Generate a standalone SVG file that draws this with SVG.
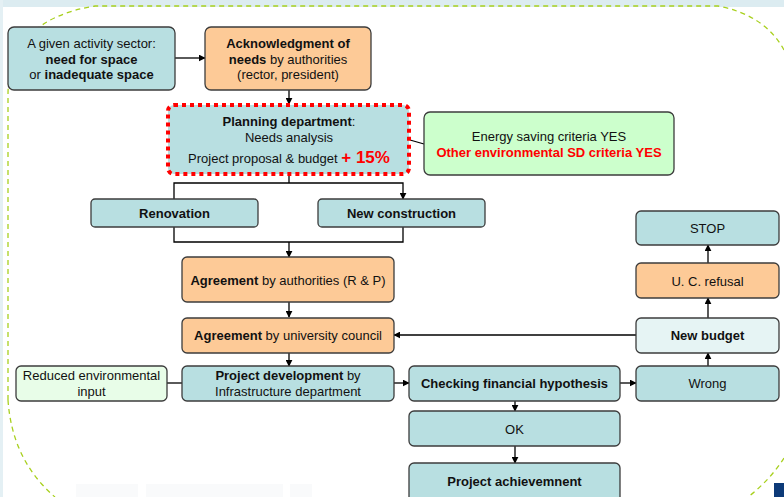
<svg xmlns="http://www.w3.org/2000/svg" width="784" height="497" viewBox="0 0 784 497">
<style>
  text { font-family: "Liberation Sans", Arial, sans-serif; font-size: 13px; fill: #111; text-anchor: middle; }
  .b { font-weight: bold; }
  .red { fill: #ff0000; font-weight: bold; }
  .teal { fill: #b8dfe1; stroke: #3c3c3c; stroke-width: 1.3; }
  .peach { fill: #fdca97; stroke: #3c3c3c; stroke-width: 1.3; }
  .green { fill: #ccffcc; stroke: #3c3c3c; stroke-width: 1.3; }
  .lgreen { fill: #e8fde8; stroke: #3c3c3c; stroke-width: 1.3; }
  .lteal { fill: #e6f4f4; stroke: #3c3c3c; stroke-width: 1.3; }
  .con { fill: none; stroke: #000; stroke-width: 1.3; }
  .deco { fill: none; stroke: #a8d01e; stroke-width: 1.3; stroke-dasharray: 5 4; }
</style>
<defs>
  <marker id="arr" viewBox="0 0 10 10" refX="9" refY="5" markerWidth="7" markerHeight="7" markerUnits="userSpaceOnUse" orient="auto">
    <path d="M0,0 L10,5 L0,10 z" fill="#000"/>
  </marker>
</defs>
<rect x="0" y="0" width="784" height="497" fill="#ffffff"/>
<g id="background">
  <rect x="0" y="0" width="784" height="7" fill="#dcecf1"/>
  <rect x="0" y="0" width="3" height="497" fill="#e4f0f4"/>
  <rect x="76" y="484" width="62" height="13" fill="#f9fafb"/>
  <rect x="146" y="484" width="137" height="13" fill="#f9fafb"/>
  <rect x="290" y="484" width="22" height="13" fill="#f9fafb"/>
  <path class="deco" d="M8,400 L8,95 Q8,20 95,6 L718,6 Q765,15 784,50"/>
  <path class="deco" d="M8,400 Q12,460 55,497"/>
  <path class="deco" d="M784,458 Q770,480 748,497"/>
  <rect x="774" y="483" width="10" height="14" fill="#0d3a78"/>
</g>
<g id="connectors">
  <line class="con" x1="175" y1="58" x2="205" y2="58" marker-end="url(#arr)"/>
  <line class="con" x1="289" y1="90" x2="289" y2="104" marker-end="url(#arr)"/>
  <line class="con" x1="410" y1="140" x2="424" y2="144"/>
  <polyline class="con" points="289,175 289,183"/>
  <polyline class="con" points="174,199 174,183 403,183 403,199" marker-start="url(#arr)" marker-end="url(#arr)"/>
  <polyline class="con" points="174,227 174,242 403,242 403,227"/>
  <line class="con" x1="289" y1="242" x2="289" y2="257" marker-end="url(#arr)"/>
  <line class="con" x1="289" y1="302" x2="289" y2="317" marker-end="url(#arr)"/>
  <line class="con" x1="289" y1="353" x2="289" y2="366" marker-end="url(#arr)"/>
  <line class="con" x1="167" y1="383" x2="182" y2="383"/>
  <line class="con" x1="394" y1="383" x2="409" y2="383" marker-end="url(#arr)"/>
  <line class="con" x1="620" y1="383" x2="636" y2="383" marker-end="url(#arr)"/>
  <line class="con" x1="515" y1="401" x2="515" y2="411" marker-end="url(#arr)"/>
  <line class="con" x1="515" y1="446" x2="515" y2="463" marker-end="url(#arr)"/>
  <line class="con" x1="708" y1="366" x2="708" y2="353" marker-end="url(#arr)"/>
  <line class="con" x1="636" y1="335" x2="394" y2="335" marker-end="url(#arr)"/>
  <line class="con" x1="708" y1="318" x2="708" y2="298" marker-end="url(#arr)"/>
  <line class="con" x1="708" y1="263" x2="708" y2="245" marker-end="url(#arr)"/>
</g>
<g id="sector">
  <rect class="teal" x="8" y="27" width="167" height="63" rx="6"/>
  <text x="91.5" y="47.5">A given activity sector:</text>
  <text x="91.5" y="63.5" class="b">need for space</text>
  <text x="91.5" y="79">or <tspan class="b">inadequate space</tspan></text>
</g>
<g id="acknowledgment">
  <rect class="peach" x="205" y="27" width="166" height="63" rx="6"/>
  <text x="288" y="47.5" class="b">Acknowledgment of</text>
  <text x="288" y="63.5"><tspan class="b">needs</tspan> by authorities</text>
  <text x="288" y="79">(rector, president)</text>
</g>
<g id="planning">
  <rect x="168" y="105" width="241" height="69" rx="6" fill="#b8dfe1" stroke="#ff0000" stroke-width="4" stroke-dasharray="4 4"/>
  <text x="289" y="126"><tspan class="b">Planning department</tspan>:</text>
  <text x="289" y="142">Needs analysis</text>
  <text x="289" y="163">Project proposal &amp; budget <tspan class="red" style="font-size:17px">+ 15%</tspan></text>
</g>
<g id="energy">
  <rect class="green" x="424" y="112" width="250" height="63" rx="6"/>
  <text x="549" y="141">Energy saving criteria YES</text>
  <text x="549" y="157" class="red">Other environmental SD criteria YES</text>
</g>
<g id="renovation">
  <rect class="teal" x="91" y="199" width="167" height="28" rx="4"/>
  <text x="174.5" y="217.5" class="b">Renovation</text>
</g>
<g id="newconstruction">
  <rect class="teal" x="318" y="199" width="167" height="28" rx="4"/>
  <text x="401.5" y="217.5" class="b">New construction</text>
</g>
<g id="agreement-authorities">
  <rect class="peach" x="182" y="257" width="212" height="45" rx="5"/>
  <text x="288" y="285"><tspan class="b">Agreement</tspan> by authorities (R &amp; P)</text>
</g>
<g id="agreement-council">
  <rect class="peach" x="182" y="318" width="212" height="35" rx="5"/>
  <text x="288" y="340"><tspan class="b">Agreement</tspan> by university council</text>
</g>
<g id="project-development">
  <rect class="teal" x="182" y="366" width="212" height="35" rx="5"/>
  <text x="288" y="380"><tspan class="b">Project development</tspan> by</text>
  <text x="288" y="396">Infrastructure department</text>
</g>
<g id="reduced-input">
  <rect class="lgreen" x="16" y="366" width="151" height="35" rx="5"/>
  <text x="91.5" y="380">Reduced environmental</text>
  <text x="91.5" y="396">input</text>
</g>
<g id="checking">
  <rect class="teal" x="409" y="366" width="211" height="35" rx="5"/>
  <text x="514.5" y="387.5" class="b">Checking financial hypothesis</text>
</g>
<g id="ok">
  <rect class="teal" x="409" y="411" width="211" height="35" rx="5"/>
  <text x="514.5" y="433.5">OK</text>
</g>
<g id="achievement">
  <rect class="teal" x="409" y="463" width="211" height="40" rx="5"/>
  <text x="514.5" y="485.5" class="b">Project achievemnent</text>
</g>
<g id="wrong">
  <rect class="teal" x="636" y="366" width="143" height="35" rx="5"/>
  <text x="707.5" y="387.5">Wrong</text>
</g>
<g id="newbudget">
  <rect class="lteal" x="636" y="318" width="143" height="35" rx="5"/>
  <text x="707.5" y="340" class="b">New budget</text>
</g>
<g id="refusal">
  <rect class="peach" x="636" y="263" width="143" height="35" rx="5"/>
  <text x="707.5" y="285.5">U. C. refusal</text>
</g>
<g id="stop">
  <rect class="teal" x="636" y="211" width="143" height="34" rx="5"/>
  <text x="707.5" y="232.5">STOP</text>
</g>
</svg>
